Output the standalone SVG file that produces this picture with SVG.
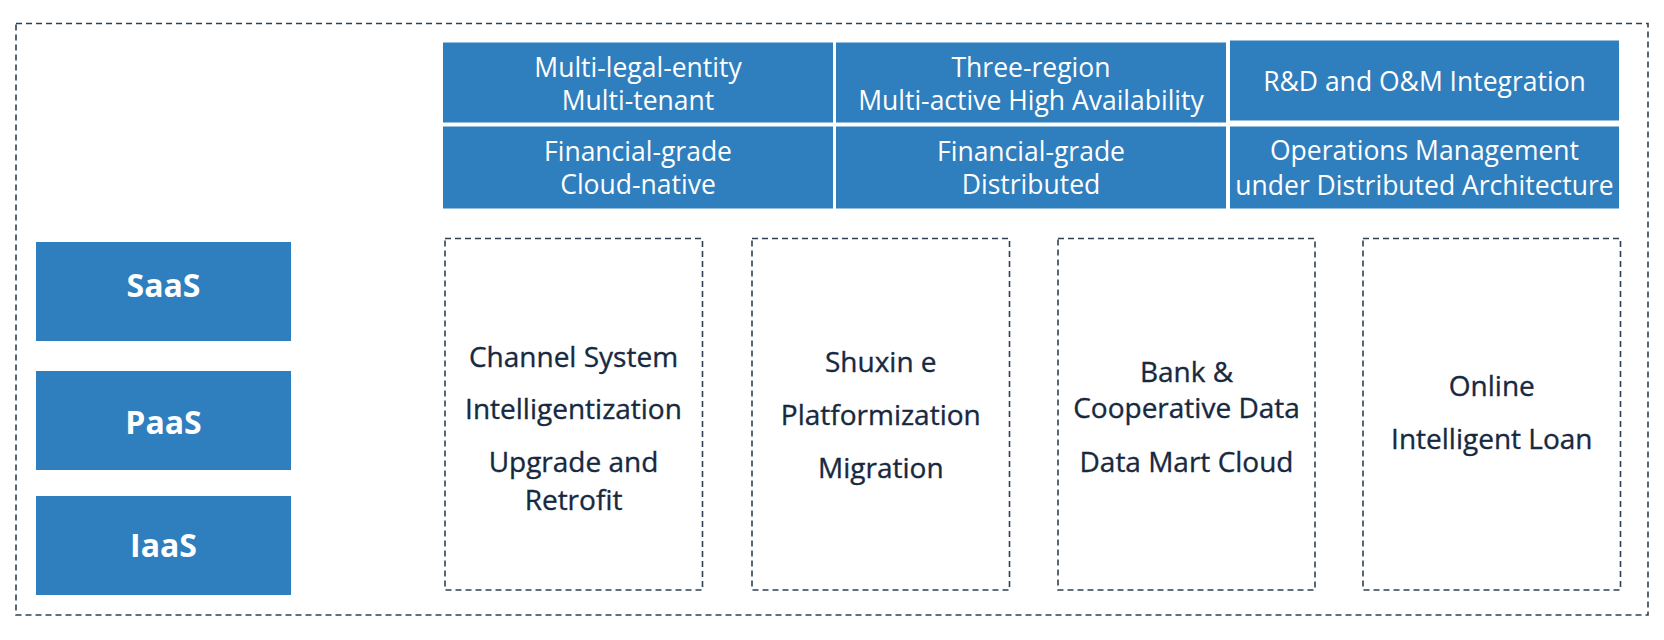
<svg xmlns="http://www.w3.org/2000/svg" width="1664" height="640" viewBox="0 0 1664 640">
<style>
.blue{fill:#2f7ebe;}
.dash{fill:none;stroke:#2d4152;stroke-width:1.6;stroke-dasharray:6 4;}
.wt{fill:#ffffff;font-family:"Open Sans","Noto Sans",sans-serif;font-size:26.5px;text-anchor:middle;}
.lt{fill:#ffffff;font-family:"Open Sans","Noto Sans",sans-serif;font-size:32px;font-weight:bold;text-anchor:middle;}
.dt{fill:#17293f;stroke:#17293f;stroke-width:0.35;font-family:"Open Sans","Noto Sans",sans-serif;font-size:28px;text-anchor:middle;}
</style>
<rect width="1664" height="640" fill="#ffffff"/>
<g id="frame"><rect class="dash" x="16" y="23.5" width="1632" height="591.5"/></g>
<g id="saas"><rect class="blue" x="36" y="242" width="255" height="99"/><text class="lt" x="163.5" y="297">SaaS</text></g>
<g id="paas"><rect class="blue" x="36" y="371" width="255" height="99"/><text class="lt" x="163.5" y="434">PaaS</text></g>
<g id="iaas"><rect class="blue" x="36" y="496" width="255" height="99"/><text class="lt" x="163.5" y="557">IaaS</text></g>
<g id="multi-legal"><rect class="blue" x="443" y="42.5" width="390" height="80"/><text class="wt" x="638" y="76.5">Multi-legal-entity</text><text class="wt" x="638" y="109.5">Multi-tenant</text></g>
<g id="three-region"><rect class="blue" x="836" y="42.5" width="390" height="80"/><text class="wt" x="1031" y="76.5">Three-region</text><text class="wt" x="1031" y="109.5">Multi-active High Availability</text></g>
<g id="rd-om"><rect class="blue" x="1230" y="40.5" width="389" height="80"/><text class="wt" x="1424.5" y="91">R&amp;D and O&amp;M Integration</text></g>
<g id="cloud-native"><rect class="blue" x="443" y="126.5" width="390" height="82"/><text class="wt" x="638" y="161">Financial-grade</text><text class="wt" x="638" y="194">Cloud-native</text></g>
<g id="distributed"><rect class="blue" x="836" y="126.5" width="390" height="82"/><text class="wt" x="1031" y="161">Financial-grade</text><text class="wt" x="1031" y="194">Distributed</text></g>
<g id="ops-mgmt"><rect class="blue" x="1230" y="126.5" width="389" height="82"/><text class="wt" x="1424.5" y="160">Operations Management</text><text class="wt" x="1424.5" y="195">under Distributed Architecture</text></g>
<g id="channel"><rect class="dash" x="445" y="238.5" width="257.5" height="351.5"/><text class="dt" x="573.5" y="366.5">Channel System</text><text class="dt" x="573.5" y="419">Intelligentization</text><text class="dt" x="573.5" y="472">Upgrade and</text><text class="dt" x="573.5" y="510">Retrofit</text></g>
<g id="shuxin"><rect class="dash" x="752" y="238.5" width="257.5" height="351.5"/><text class="dt" x="880.8" y="371.5">Shuxin e</text><text class="dt" x="880.8" y="425">Platformization</text><text class="dt" x="880.8" y="478">Migration</text></g>
<g id="bank"><rect class="dash" x="1058" y="238.5" width="257" height="351.5"/><text class="dt" x="1186.5" y="381.5">Bank &amp;</text><text class="dt" x="1186.5" y="417.5">Cooperative Data</text><text class="dt" x="1186.5" y="471.5">Data Mart Cloud</text></g>
<g id="loan"><rect class="dash" x="1363" y="238.5" width="257.5" height="351.5"/><text class="dt" x="1491.8" y="395.5">Online</text><text class="dt" x="1491.8" y="449">Intelligent Loan</text></g>
<g id="connectors"></g>
</svg>
